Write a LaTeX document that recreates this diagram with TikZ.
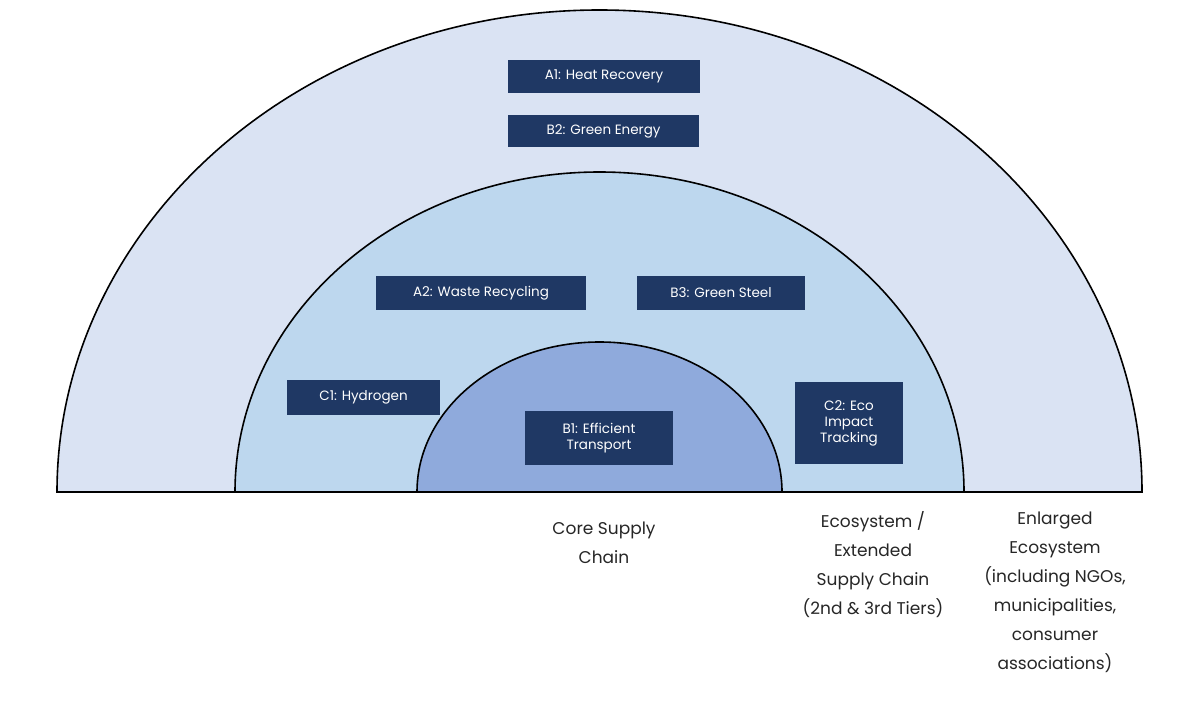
\documentclass[tikz,border=0pt]{standalone}
\usepackage{fontspec}
\setmainfont{Poppins}
\begin{document}
\begin{tikzpicture}[x=1pt,y=-1pt,
  box/.style={fill=navy,text=white,inner sep=0pt,font=\fontsize{13.5}{16}\selectfont,align=center},
  lab/.style={font=\fontsize{17}{29}\selectfont,align=center,anchor=north,text=black!85}]
\definecolor{navy}{HTML}{1F3864}
\definecolor{c1}{HTML}{DAE3F3}
\definecolor{c2}{HTML}{BDD7EE}
\definecolor{c3}{HTML}{8FAADC}
\useasboundingbox (0,0) rectangle (1201,701);
\draw[line width=1.6pt,fill=c1] (57,492) arc[start angle=180,end angle=360,x radius=542.5,y radius=482] -- cycle;
\draw[line width=1.6pt,fill=c2] (235,492) arc[start angle=180,end angle=360,x radius=364.5,y radius=320] -- cycle;
\draw[line width=1.6pt,fill=c3] (417,492) arc[start angle=180,end angle=360,x radius=182.5,y radius=150] -- cycle;
\node[box,minimum width=192,minimum height=33] (a1) at (604,76.5) {A1: Heat Recovery};
\node[box,minimum width=191,minimum height=32] (b2) at (603.5,131) {B2: Green Energy};
\node[box,minimum width=210,minimum height=34] (a2) at (481,293) {A2: Waste Recycling};
\node[box,minimum width=168,minimum height=34] (b3) at (721,293) {B3: Green Steel};
\node[box,minimum width=153,minimum height=35] (c1n) at (363.5,397.5) {C1: Hydrogen};
\node[box,minimum width=148,minimum height=54] (b1) at (599,438) {B1: Efficient\\Transport};
\node[box,minimum width=108,minimum height=82] (c2n) at (849,423) {C2: Eco\\Impact\\Tracking};
\node[lab] (l1) at (604,518) {Core Supply\\Chain};
\node[lab] (l2) at (873,508) {Ecosystem /\\Extended\\Supply Chain\\(2nd \& 3rd Tiers)};
\node[lab] (l3) at (1055,508) {Enlarged\\Ecosystem\\(including NGOs,\\municipalities,\\consumer\\associations)};
\end{tikzpicture}
\end{document}
